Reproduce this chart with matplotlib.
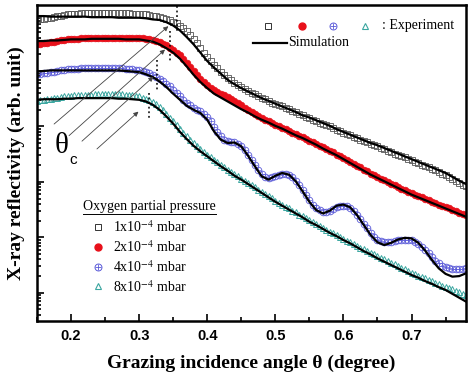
import numpy as np
import matplotlib
matplotlib.use("Agg")
import matplotlib.pyplot as plt
from matplotlib.ticker import LogLocator, NullFormatter, MultipleLocator

plt.rcParams['mathtext.fontset'] = 'stix'

# grazing angle grids (degree)
theta_sim = np.round(np.arange(0.15, 0.7801, 0.01), 3)
theta_exp = np.round(np.arange(0.15, 0.78001, 0.005), 4)

# log10 reflectivity, simulation
sim_1 = [4.99, 4.99, 4.98, 4.98, 4.98, 4.98, 4.98, 4.98, 4.97, 4.97,
         4.97, 4.97, 4.96, 4.96, 4.96, 4.96, 4.95, 4.93, 4.92, 4.88,
         4.82, 4.73, 4.61, 4.48, 4.33, 4.18, 4.06, 3.95, 3.84, 3.76,
         3.69, 3.63, 3.57, 3.51, 3.46, 3.41, 3.36, 3.31, 3.26, 3.20,
         3.16, 3.11, 3.06, 3.01, 2.95, 2.90, 2.85, 2.80, 2.75, 2.70,
         2.66, 2.61, 2.56, 2.51, 2.46, 2.41, 2.36, 2.31, 2.26, 2.21,
         2.16, 2.09, 2.02, 1.96]
sim_2 = [4.54, 4.54, 4.55, 4.55, 4.56, 4.57, 4.57, 4.57, 4.58, 4.58,
         4.58, 4.58, 4.58, 4.57, 4.57, 4.57, 4.55, 4.53, 4.48, 4.41,
         4.33, 4.22, 4.08, 3.93, 3.80, 3.69, 3.59, 3.52, 3.45, 3.38,
         3.31, 3.25, 3.18, 3.12, 3.07, 3.01, 2.96, 2.90, 2.84, 2.79,
         2.73, 2.67, 2.60, 2.54, 2.48, 2.41, 2.34, 2.27, 2.20, 2.13,
         2.07, 2.01, 1.95, 1.89, 1.83, 1.77, 1.72, 1.67, 1.62, 1.57,
         1.52, 1.47, 1.42, 1.37]
sim_4 = [3.99, 4.00, 4.01, 4.01, 4.01, 4.01, 4.01, 4.01, 4.01, 4.01,
         4.01, 4.01, 4.01, 4.00, 3.99, 3.98, 3.94, 3.89, 3.81, 3.71,
         3.59, 3.48, 3.37, 3.30, 3.24, 3.12, 2.91, 2.76, 2.70, 2.71,
         2.64, 2.47, 2.28, 2.10, 2.04, 2.11, 2.16, 2.13, 2.01, 1.83,
         1.64, 1.49, 1.43, 1.48, 1.57, 1.59, 1.54, 1.40, 1.22, 1.04,
         0.91, 0.86, 0.90, 0.96, 0.99, 0.98, 0.90, 0.76, 0.59, 0.44,
         0.34, 0.29, 0.30, 0.35]
sim_8 = [3.48, 3.49, 3.49, 3.49, 3.50, 3.50, 3.51, 3.51, 3.51, 3.51,
         3.51, 3.51, 3.50, 3.50, 3.49, 3.48, 3.45, 3.39, 3.30, 3.18,
         3.05, 2.90, 2.77, 2.65, 2.55, 2.46, 2.37, 2.28, 2.20, 2.11,
         2.04, 1.96, 1.88, 1.80, 1.72, 1.64, 1.57, 1.50, 1.43, 1.36,
         1.28, 1.22, 1.15, 1.08, 1.02, 0.95, 0.89, 0.82, 0.75, 0.69,
         0.62, 0.56, 0.50, 0.44, 0.38, 0.32, 0.27, 0.21, 0.16, 0.10,
         0.05, -0.02, -0.09, -0.16]

# log10 reflectivity, experiment (0.005 degree step)
exp_1 = [4.92, 4.93, 4.94, 4.95, 4.96, 4.98, 4.99, 5.00, 5.01, 5.02,
         5.02, 5.03, 5.03, 5.04, 5.04, 5.04, 5.04, 5.04, 5.04, 5.04,
         5.04, 5.04, 5.04, 5.04, 5.04, 5.04, 5.04, 5.04, 5.03, 5.03,
         5.03, 5.03, 5.02, 5.01, 5.00, 4.99, 4.98, 4.96, 4.94, 4.92,
         4.89, 4.86, 4.82, 4.77, 4.72, 4.65, 4.58, 4.50, 4.42, 4.33,
         4.25, 4.18, 4.11, 4.05, 3.99, 3.93, 3.88, 3.83, 3.79, 3.75,
         3.71, 3.67, 3.64, 3.61, 3.58, 3.55, 3.52, 3.49, 3.46, 3.43,
         3.41, 3.38, 3.36, 3.33, 3.31, 3.28, 3.26, 3.23, 3.20, 3.17,
         3.15, 3.12, 3.10, 3.07, 3.05, 3.02, 3.00, 2.97, 2.94, 2.91,
         2.89, 2.86, 2.84, 2.81, 2.79, 2.76, 2.74, 2.71, 2.69, 2.66,
         2.64, 2.61, 2.59, 2.56, 2.54, 2.51, 2.49, 2.46, 2.44, 2.41,
         2.39, 2.36, 2.34, 2.31, 2.29, 2.26, 2.24, 2.21, 2.18, 2.15,
         2.12, 2.08, 2.05, 2.01, 1.98, 1.95, 1.92]
exp_2 = [4.48, 4.49, 4.50, 4.51, 4.52, 4.53, 4.54, 4.55, 4.56, 4.57,
         4.57, 4.58, 4.58, 4.59, 4.59, 4.60, 4.60, 4.60, 4.60, 4.60,
         4.60, 4.60, 4.60, 4.60, 4.60, 4.60, 4.60, 4.60, 4.60, 4.60,
         4.59, 4.59, 4.58, 4.57, 4.56, 4.54, 4.52, 4.49, 4.46, 4.42,
         4.38, 4.33, 4.28, 4.22, 4.15, 4.08, 4.00, 3.93, 3.86, 3.80,
         3.75, 3.70, 3.66, 3.62, 3.59, 3.56, 3.53, 3.50, 3.46, 3.42,
         3.38, 3.34, 3.30, 3.26, 3.22, 3.18, 3.15, 3.12, 3.09, 3.06,
         3.03, 3.00, 2.97, 2.95, 2.92, 2.89, 2.86, 2.83, 2.80, 2.77,
         2.74, 2.71, 2.68, 2.65, 2.62, 2.59, 2.56, 2.53, 2.49, 2.46,
         2.43, 2.40, 2.36, 2.33, 2.29, 2.26, 2.22, 2.19, 2.15, 2.12,
         2.09, 2.06, 2.03, 2.00, 1.97, 1.94, 1.91, 1.88, 1.85, 1.82,
         1.79, 1.77, 1.74, 1.72, 1.69, 1.67, 1.64, 1.62, 1.59, 1.57,
         1.54, 1.52, 1.49, 1.47, 1.44, 1.42, 1.40]
exp_4 = [3.94, 3.95, 3.96, 3.97, 3.98, 3.99, 4.00, 4.01, 4.02, 4.03,
         4.03, 4.04, 4.04, 4.05, 4.05, 4.05, 4.05, 4.05, 4.05, 4.05,
         4.05, 4.05, 4.05, 4.05, 4.05, 4.05, 4.04, 4.04, 4.03, 4.02,
         4.01, 4.00, 3.98, 3.96, 3.93, 3.90, 3.86, 3.82, 3.77, 3.72,
         3.66, 3.60, 3.54, 3.48, 3.43, 3.38, 3.34, 3.30, 3.27, 3.23,
         3.17, 3.09, 2.99, 2.90, 2.82, 2.76, 2.73, 2.71, 2.71, 2.69,
         2.65, 2.58, 2.49, 2.40, 2.30, 2.21, 2.14, 2.09, 2.07, 2.08,
         2.10, 2.13, 2.14, 2.14, 2.12, 2.08, 2.02, 1.94, 1.85, 1.76,
         1.67, 1.59, 1.53, 1.49, 1.46, 1.46, 1.48, 1.51, 1.55, 1.57,
         1.57, 1.56, 1.53, 1.48, 1.41, 1.33, 1.24, 1.16, 1.08, 1.01,
         0.96, 0.93, 0.91, 0.91, 0.92, 0.94, 0.95, 0.96, 0.96, 0.96,
         0.95, 0.92, 0.88, 0.83, 0.77, 0.71, 0.64, 0.58, 0.53, 0.49,
         0.46, 0.44, 0.43, 0.43, 0.43, 0.43, 0.44]
exp_8 = [3.46, 3.47, 3.48, 3.49, 3.50, 3.51, 3.52, 3.53, 3.54, 3.55,
         3.55, 3.56, 3.56, 3.57, 3.57, 3.57, 3.57, 3.58, 3.58, 3.58,
         3.58, 3.58, 3.58, 3.58, 3.58, 3.58, 3.57, 3.57, 3.56, 3.55,
         3.54, 3.52, 3.50, 3.47, 3.44, 3.40, 3.35, 3.29, 3.23, 3.16,
         3.09, 3.02, 2.95, 2.88, 2.82, 2.76, 2.70, 2.64, 2.59, 2.54,
         2.49, 2.44, 2.40, 2.35, 2.31, 2.26, 2.22, 2.18, 2.14, 2.10,
         2.06, 2.02, 1.98, 1.94, 1.90, 1.86, 1.82, 1.78, 1.74, 1.70,
         1.66, 1.62, 1.59, 1.55, 1.52, 1.48, 1.45, 1.41, 1.38, 1.34,
         1.31, 1.27, 1.24, 1.20, 1.17, 1.13, 1.10, 1.07, 1.04, 1.00,
         0.97, 0.94, 0.91, 0.88, 0.85, 0.81, 0.78, 0.75, 0.72, 0.69,
         0.66, 0.63, 0.60, 0.57, 0.54, 0.51, 0.48, 0.45, 0.42, 0.39,
         0.36, 0.33, 0.31, 0.28, 0.26, 0.23, 0.21, 0.18, 0.16, 0.13,
         0.11, 0.08, 0.06, 0.03, 0.01, -0.02, -0.05]

# critical angles (degree) and the log10 span of the dotted markers
theta_c = [0.356, 0.345, 0.326, 0.314]
theta_c_span = [(5.17, 4.72), (4.72, 4.14), (4.20, 3.66), (3.60, 3.12)]
# arrows: (start angle, start log R, end angle, end log R)
arrows = [(0.172, 3.01, 0.346, 4.84),
          (0.194, 2.80, 0.341, 4.42),
          (0.213, 2.70, 0.324, 3.93),
          (0.235, 2.56, 0.302, 3.30)]

pressures = ['1x10$^{-4}$ mbar', '2x10$^{-4}$ mbar', '4x10$^{-4}$ mbar', '8x10$^{-4}$ mbar']

serif = 'Liberation Serif'
sans = 'Liberation Sans'

fig = plt.figure(figsize=(4.74, 3.77), dpi=100)
ax = fig.add_axes([37 / 474, 56 / 377, 429 / 474, 316 / 377])
ax.set_yscale('log')

c1, c2, c4, c8 = '#555555', '#e8101a', '#5a5ad8', '#3aa6a0'
ms = 4.8
ax.plot(theta_exp, 10 ** np.array(exp_1), ls='none', marker='s', ms=ms - 0.6, mfc='none', mec=c1, mew=0.6)
ax.plot(theta_exp, 10 ** np.array(exp_2), ls='none', marker='o', ms=ms, mfc=c2, mec=c2, mew=0.5)
ax.plot(theta_exp, 10 ** np.array(exp_4), ls='none', marker='o', ms=ms, mfc='none', mec=c4, mew=0.6)
ax.plot(theta_exp, 10 ** np.array(exp_4), ls='none', marker='+', ms=ms - 0.6, mec=c4, mew=0.5)
ax.plot(theta_exp, 10 ** np.array(exp_8), ls='none', marker='^', ms=ms, mfc='none', mec=c8, mew=0.7)

for s in (sim_1, sim_2, sim_4, sim_8):
    ax.plot(theta_sim, 10 ** np.array(s), color='black', lw=1.6)

for tc, (y0, y1) in zip(theta_c, theta_c_span):
    ax.plot([tc, tc], [10 ** y0, 10 ** y1], color='black', ls=(0, (1.2, 1.8)), lw=1.1)

for x0, y0, x1, y1 in arrows:
    ax.annotate('', xy=(x1, 10 ** y1), xytext=(x0, 10 ** y0),
                arrowprops=dict(arrowstyle='-|>', color='#444444', lw=0.6, mutation_scale=7))

ax.set_xlim(0.15, 0.78)
ax.set_ylim(10 ** -0.51, 10 ** 5.19)
ax.xaxis.set_major_locator(MultipleLocator(0.1))
ax.xaxis.set_minor_locator(MultipleLocator(0.05))
ax.yaxis.set_major_locator(LogLocator(base=10, numticks=20))
ax.yaxis.set_minor_locator(LogLocator(base=10, subs=np.arange(2, 10), numticks=20))
ax.yaxis.set_major_formatter(NullFormatter())
ax.yaxis.set_minor_formatter(NullFormatter())
ax.tick_params(which='both', direction='in', top=False, right=False, width=1.2)
ax.tick_params(which='major', length=5)
ax.tick_params(which='minor', length=3)
ax.tick_params(axis='x', pad=6)
for lab in ax.get_xticklabels():
    lab.set_fontfamily(sans)
    lab.set_fontweight('bold')
    lab.set_fontsize(10.5)
for sp in ax.spines.values():
    sp.set_linewidth(1.8)

ax.set_xlabel('Grazing incidence angle \u03b8 (degree)', fontfamily=serif, fontweight='bold',
              fontsize=14, labelpad=8)
ax.set_ylabel('X-ray reflectivity (arb. unit)', fontfamily=serif, fontweight='bold',
              fontsize=14, labelpad=5)

# top-right key
tr = ax.transAxes
key_x = [0.538, 0.618, 0.690, 0.765]
ax.plot(key_x[0], 0.934, 's', ms=4.5, mfc='none', mec='#333333', mew=0.7, transform=tr)
ax.plot(key_x[1], 0.934, 'o', ms=5, mfc=c2, mec=c2, transform=tr)
ax.plot(key_x[2], 0.934, 'o', ms=5, mfc='none', mec=c4, mew=0.7, transform=tr)
ax.plot(key_x[2], 0.934, '+', ms=4.5, mec=c4, mew=0.6, transform=tr)
ax.plot(key_x[3], 0.934, '^', ms=5, mfc='none', mec=c8, mew=0.8, transform=tr)
ax.text(0.805, 0.934, ': Experiment', transform=tr, fontfamily=serif, fontsize=10, va='center')
ax.plot([0.503, 0.583], [0.880, 0.880], color='black', lw=1.6, transform=tr)
ax.text(0.585, 0.880, 'Simulation', transform=tr, fontfamily=serif, fontsize=10, va='center')

# lower-left key
ax.text(0.107, 0.361, 'Oxygen partial pressure', transform=tr, fontfamily=serif, fontsize=10, va='center')
ax.plot([0.107, 0.417], [0.340, 0.340], color='black', lw=0.7, transform=tr)
key_y = [0.297, 0.234, 0.171, 0.108]
ax.plot(0.142, key_y[0], 's', ms=4.5, mfc='none', mec='#333333', mew=0.7, transform=tr)
ax.plot(0.142, key_y[1], 'o', ms=5, mfc=c2, mec=c2, transform=tr)
ax.plot(0.142, key_y[2], 'o', ms=5, mfc='none', mec=c4, mew=0.7, transform=tr)
ax.plot(0.142, key_y[3] + 0.002, '^', ms=5, mfc='none', mec=c8, mew=0.8, transform=tr)
ax.plot(0.142, key_y[2], '+', ms=4.5, mec=c4, mew=0.6, transform=tr)
for y, lab in zip(key_y, pressures):
    ax.text(0.177, y, lab, transform=tr, fontfamily=serif, fontsize=10, va='center')

# theta_c label
fig.text(55 / 474, 1 - 146 / 377, '\u03b8', fontfamily=serif, fontsize=21, va='center', ha='left')
fig.text(69 / 474, 1 - 160 / 377, 'c', fontfamily=sans, fontsize=11, va='center', ha='left')

fig.savefig('out.png', dpi=100)
